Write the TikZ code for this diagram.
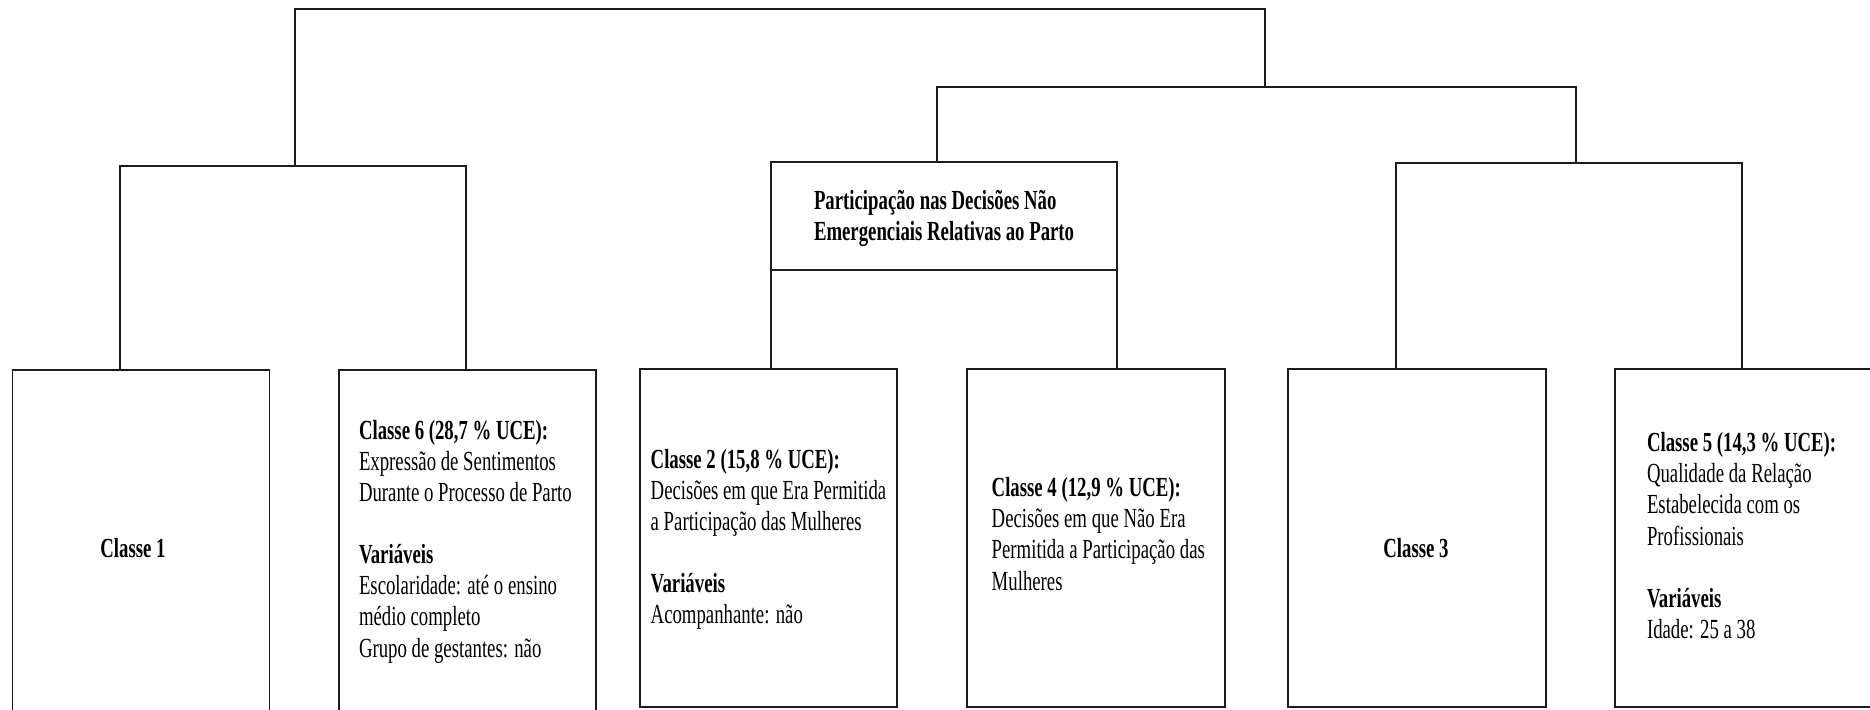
\documentclass[tikz,border=0pt]{standalone}
\usepackage{fontspec}
\setmainfont{Liberation Serif}
\newfontfamily\clsfont[FakeStretch=0.68]{Liberation Serif}
\definecolor{linecol}{RGB}{28,28,28}
\tikzset{
  boxnode/.style={draw=linecol, line width=1.7pt, rectangle, inner sep=0pt, outer sep=0pt},
  link/.style={draw=linecol, line width=1.7pt},
  clstext/.style={inner sep=0pt, outer sep=0pt, align=left, text=black,
    font=\clsfont\fontsize{27.6pt}{31.1pt}\selectfont},
}
\begin{document}
\begin{tikzpicture}[x=1pt, y=-1pt]
\path[use as bounding box] (0,0) rectangle (1870,709);
\clip (0,0) rectangle (1870,709);
\fill[white] (0,0) rectangle (1870,709);

% boxes
\node[boxnode, minimum width=257pt, minimum height=355pt] (b1) at (141,547.5) {};
\node[boxnode, minimum width=257pt, minimum height=355pt] (b6) at (467.5,547.5) {};
\node[boxnode, minimum width=257pt, minimum height=338pt] (b2) at (768.5,538) {};
\node[boxnode, minimum width=258pt, minimum height=338pt] (b4) at (1096,538) {};
\node[boxnode, minimum width=258pt, minimum height=338pt] (b3) at (1417,538) {};
\node[boxnode, minimum width=285pt, minimum height=338pt] (b5) at (1757.5,538) {};
\node[boxnode, minimum width=346pt, minimum height=108pt] (part) at (944,216) {};

% junction coordinates
\coordinate (root) at (295,9);
\coordinate (rootR) at (1265,9);
\coordinate (L) at (295,166);
\coordinate (La) at (120,166);
\coordinate (Lb) at (466,166);
\coordinate (M) at (1265,87);
\coordinate (Ma) at (937,87);
\coordinate (Mb) at (1576,87);
\coordinate (Ra) at (1396,163);
\coordinate (Rb) at (1742,163);

% connectors
\draw[link] (L) -- (root) -- (rootR) -- (M);
\draw[link] (La |- b1.north) -- (La) -- (Lb) -- (Lb |- b6.north);
\draw[link] (Ma |- part.north) -- (Ma) -- (Mb) -- (Mb |- Ra);
\draw[link] (Ra |- b3.north) -- (Ra) -- (Rb) -- (Rb |- b5.north);
\draw[link] (part.south west) -- (part.south west |- b2.north);
\draw[link] (part.south east) -- (part.south east |- b4.north);

% texts (base anchor = baseline of the last line)
\node[clstext, anchor=base west] (tp) at (814,240.8)
  {\textbf{Participação nas Decisões Não}\\\textbf{Emergenciais Relativas ao Parto}};
\node[clstext, anchor=base] (t1) at (133,557) {\textbf{Classe 1}};
\node[clstext, anchor=base] (t3) at (1416,557) {\textbf{Classe 3}};
\node[clstext, anchor=base west] (t6) at (359,657)
  {\textbf{Classe 6 (28,7 \% UCE):}\\Expressão de Sentimentos\\Durante o Processo de Parto\\[31.1pt]%
   \textbf{Variáveis}\\Escolaridade: até o ensino\\médio completo\\Grupo de gestantes: não};
\node[clstext, anchor=base west] (t2) at (650.7,623.5)
  {\textbf{Classe 2 (15,8 \% UCE):}\\Decisões em que Era Permitida\\a Participação das Mulheres\\[31.1pt]%
   \textbf{Variáveis}\\Acompanhante: não};
\node[clstext, anchor=base west] (t4) at (991.7,590)
  {\textbf{Classe 4 (12,9 \% UCE):}\\Decisões em que Não Era\\Permitida a Participação das\\Mulheres};
\node[clstext, anchor=base west] (t5) at (1647,638.3)
  {\textbf{Classe 5 (14,3 \% UCE):}\\Qualidade da Relação\\Estabelecida com os\\Profissionais\\[31.1pt]%
   \textbf{Variáveis}\\Idade: 25 a 38};
\end{tikzpicture}
\end{document}
